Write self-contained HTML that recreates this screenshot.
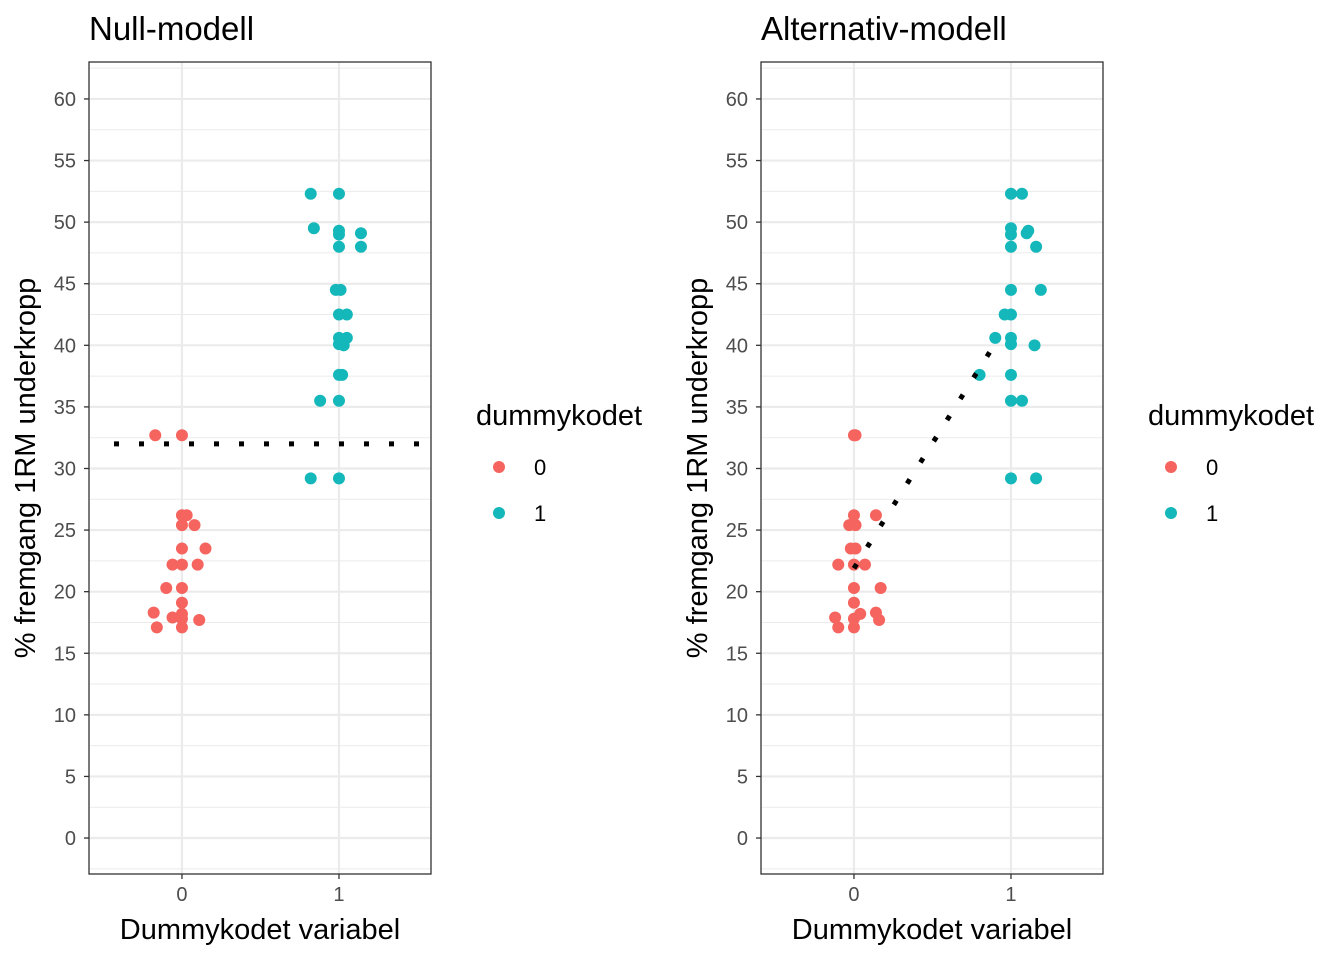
<!DOCTYPE html>
<html><head><meta charset="utf-8"><style>
body{margin:0;background:#fff;}
svg{display:block;font-family:"Liberation Sans",Arial,sans-serif;}
</style></head><body>
<svg id="chart" width="1344" height="960" xmlns="http://www.w3.org/2000/svg"></svg>
<script>
const yTicks=[0,5,10,15,20,25,30,35,40,45,50,55,60];
const xTicks=[0,1];
const y0=[32.7,32.7,26.2,26.2,25.4,25.4,23.5,23.5,22.2,22.2,22.2,20.3,20.3,19.1,18.3,17.9,18.2,17.8,17.7,17.1,17.1];
const j0L=[-0.17,0,0,0.03,0,0.08,0,0.15,-0.06,0,0.1,-0.1,0,0,-0.18,-0.06,0,0,0.11,-0.16,0];
const j0R=[0,0.01,0,0.14,-0.03,0.01,-0.02,0.01,-0.1,0,0.07,0,0.17,0,0.14,-0.12,0.04,0,0.16,-0.1,0];
const y1=[52.3,52.3,49.5,49.3,49.0,49.1,48.0,48.0,44.5,44.5,42.5,42.5,40.6,40.6,40.1,40.0,37.6,37.6,35.5,35.5,29.2,29.2];
const j1L=[-0.18,0,-0.16,0,0,0.14,0,0.14,-0.02,0.01,0,0.05,0,0.05,0,0.03,0,0.02,-0.12,0,-0.18,0];
const j1R=[0,0.07,0,0.11,0,0.1,0,0.16,0,0.19,-0.04,0,-0.1,0,0,0.15,-0.2,0,0,0.07,0,0.16];
const nullMean=32.0;
const altIntercept=21.9, altSlope=20.3, altX=[0,0.93];
const panels=[{title:"Null-modell",left:89,j0:j0L,j1:j1L,name:"null"},{title:"Alternativ-modell",left:761,j0:j0R,j1:j1R,name:"alt"}];
const W=342, topY=62, bottomY=874, xmin=-0.592, xmax=1.586, ymin=-2.92, ymax=63.0;
const svg=document.getElementById('chart');
const NS="http://www.w3.org/2000/svg";
function mk(tag,a,p){const e=document.createElementNS(NS,tag);for(const k in a)e.setAttribute(k,a[k]);(p||svg).appendChild(e);return e;}
const C0="#F5645E",C1="#14B7BA";
panels.forEach(P=>{
 const sx=v=>P.left+(v-xmin)/(xmax-xmin)*W;
 const sy=v=>bottomY-(v-ymin)/(ymax-ymin)*(bottomY-topY);
 const g=mk('g',{});
 
 
 for(let v=-2.5;v<=62.5;v+=5){if(v<ymin)continue;mk('line',{x1:P.left,x2:P.left+W,y1:sy(v),y2:sy(v),stroke:"#ebebeb","stroke-width":1},g);}
 yTicks.forEach(v=>{
  mk('line',{x1:P.left,x2:P.left+W,y1:sy(v),y2:sy(v),stroke:"#ebebeb","stroke-width":2.2},g);
  mk('line',{x1:P.left-5,x2:P.left,y1:sy(v),y2:sy(v),stroke:"#333","stroke-width":1.3},g);
  const t=mk('text',{x:P.left-13,y:sy(v)+7,"text-anchor":"end","font-size":20,fill:"#4d4d4d"},g);t.textContent=v;
  
  
 });
 xTicks.forEach(v=>{
  mk('line',{x1:sx(v),x2:sx(v),y1:topY,y2:bottomY,stroke:"#ebebeb","stroke-width":2.2},g);
  mk('line',{x1:sx(v),x2:sx(v),y1:bottomY,y2:bottomY+5,stroke:"#333","stroke-width":1.3},g);
  const t=mk('text',{x:sx(v),y:bottomY+27,"text-anchor":"middle","font-size":20,fill:"#4d4d4d"},g);t.textContent=v;
  
  
 });
 y0.forEach((v,i)=>{const c=mk('circle',{cx:sx(P.j0[i]),cy:sy(v),r:6,fill:C0},g);
  
  });
 y1.forEach((v,i)=>{const c=mk('circle',{cx:sx(1+P.j1[i]),cy:sy(v),r:6,fill:C1},g);
  
  });
 let ln;
 if(P.name==="null") ln=mk('line',{x1:P.left+25,x2:P.left+W,y1:sy(nullMean),y2:sy(nullMean),stroke:"#000","stroke-width":5,"stroke-dasharray":"5 20"},g);
 else ln=mk('line',{x1:sx(altX[0]),x2:sx(altX[1]),y1:sy(altIntercept+altSlope*altX[0]),y2:sy(altIntercept+altSlope*altX[1]),stroke:"#000","stroke-width":5,"stroke-dasharray":"5 20"},g);
 
 
 mk('rect',{x:P.left,y:topY,width:W,height:bottomY-topY,fill:"none",stroke:"#333","stroke-width":1.3},g);
 const tt=mk('text',{x:P.left,y:40,"font-size":33,fill:"#000"},g);tt.textContent=P.title;
 
 
 const xt=mk('text',{x:P.left+W/2,y:939,"text-anchor":"middle","font-size":29,fill:"#000"},g);xt.textContent="Dummykodet variabel";
 
 
 const yt=mk('text',{x:0,y:0,"text-anchor":"middle","font-size":29,fill:"#000",transform:`translate(${P.left-54},468) rotate(-90)`},g);yt.textContent="% fremgang 1RM underkropp";
 
 
 const lx=P.left+387;
 const lt=mk('text',{x:lx,y:425,"font-size":29,fill:"#000"},g);lt.textContent="dummykodet";
 
 
 [[C0,"0",467],[C1,"1",513]].forEach(([c,l,y])=>{
  const k=mk('circle',{cx:lx+23,cy:y,r:6,fill:c},g);
  
  
  const t=mk('text',{x:lx+58,y:y+8,"font-size":22,fill:"#000"},g);t.textContent=l;
  
  
 });
});
</script>
</body></html>
